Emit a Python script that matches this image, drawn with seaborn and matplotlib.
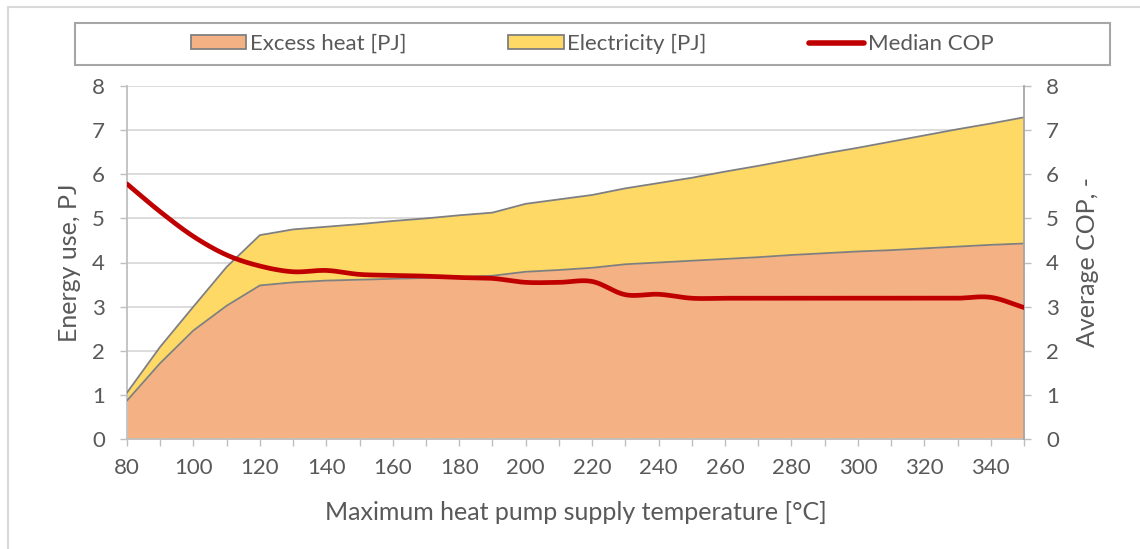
import numpy as np
import pandas as pd
import matplotlib
matplotlib.use("Agg")
import matplotlib.pyplot as plt
import seaborn as sns
from matplotlib.patches import Patch, Rectangle
from matplotlib.lines import Line2D

# ---------------- data ----------------
temperature = [80, 90, 100, 110, 120, 130, 140, 150, 160, 170, 180, 190, 200, 210,
               220, 230, 240, 250, 260, 270, 280, 290, 300, 310, 320, 330, 340, 350]
excess_heat = [0.87, 1.72, 2.46, 3.02, 3.48, 3.55, 3.59, 3.61, 3.63, 3.65, 3.67, 3.70, 3.79, 3.83,
               3.88, 3.96, 4.00, 4.04, 4.08, 4.12, 4.17, 4.21, 4.25, 4.28, 4.32, 4.36, 4.40, 4.43]
total_energy = [1.05, 2.09, 3.00, 3.90, 4.62, 4.75, 4.81, 4.87, 4.94, 5.00, 5.07, 5.13, 5.33, 5.43,
                5.53, 5.68, 5.80, 5.92, 6.06, 6.19, 6.33, 6.47, 6.60, 6.74, 6.88, 7.02, 7.15, 7.29]
electricity = [round(t - e, 2) for t, e in zip(total_energy, excess_heat)]
median_cop = [5.78, 5.15, 4.59, 4.17, 3.92, 3.79, 3.82, 3.73, 3.71, 3.69, 3.66, 3.64, 3.55, 3.55,
              3.57, 3.27, 3.28, 3.19, 3.19, 3.19, 3.19, 3.19, 3.19, 3.19, 3.19, 3.19, 3.21, 2.98]

legend_labels = ["Excess heat [PJ]", "Electricity [PJ]", "Median COP"]
x_label = "Maximum heat pump supply temperature [°C]"
y_left_label = "Energy use, PJ"
y_right_label = "Average COP, -"

df = pd.DataFrame({"T": temperature, "excess": excess_heat,
                   "elec": electricity, "cop": median_cop})
df["total"] = df["excess"] + df["elec"]

# ---------------- style ----------------
sns.set_theme(style="white")
plt.rcParams["font.family"] = ["Lato", "DejaVu Sans"]
TXT = "#595959"
GRID = "#D9D9D9"
SPINE = "#BFBFBF"
C_EXCESS = "#F4B183"
C_ELEC = "#FFD966"
C_COP = "#C00000"
C_EDGE = "#7F7F7F"
FS = 16
FS_LAB = 18

W, H = 1140, 549
fig = plt.figure(figsize=(W / 100, H / 100), dpi=100)
fig.patch.set_facecolor("white")

# outer chart border (cropped at right/bottom)
fig.add_artist(Rectangle((8 / W, -0.1), 1.2, 1 - 7 / H + 0.1, transform=fig.transFigure,
                         fill=False, edgecolor="#D9D9D9", lw=1.5))

ax = fig.add_axes([127 / W, 1 - 439 / H, (1024 - 127) / W, (439 - 86) / H])

# stacked areas
ax.fill_between(df["T"], 0, df["excess"], color=C_EXCESS, lw=0, zorder=2)
ax.fill_between(df["T"], df["excess"], df["total"], color=C_ELEC, lw=0, zorder=2)
sns.lineplot(x="T", y="excess", data=df, ax=ax, color=C_EDGE, lw=1.3, zorder=3)
sns.lineplot(x="T", y="total", data=df, ax=ax, color=C_EDGE, lw=1.3, zorder=3)

# smoothed COP line (Catmull-Rom through the data points, like Excel smoothing)
xs = df["T"].to_numpy(float)
ys = df["cop"].to_numpy(float)
px = np.concatenate([[2 * xs[0] - xs[1]], xs, [2 * xs[-1] - xs[-2]]])
py = np.concatenate([[2 * ys[0] - ys[1]], ys, [2 * ys[-1] - ys[-2]]])
sx, sy = [], []
tt = np.linspace(0, 1, 20, endpoint=False)
for i in range(1, len(px) - 2):
    p0x, p1x, p2x, p3x = px[i - 1:i + 3]
    p0y, p1y, p2y, p3y = py[i - 1:i + 3]
    b1x, b1y = p1x + (p2x - p0x) / 6, p1y + (p2y - p0y) / 6
    b2x, b2y = p2x - (p3x - p1x) / 6, p2y - (p3y - p1y) / 6
    bx = (1 - tt) ** 3 * p1x + 3 * (1 - tt) ** 2 * tt * b1x + 3 * (1 - tt) * tt ** 2 * b2x + tt ** 3 * p2x
    by = (1 - tt) ** 3 * p1y + 3 * (1 - tt) ** 2 * tt * b1y + 3 * (1 - tt) * tt ** 2 * b2y + tt ** 3 * p2y
    sx.extend(bx); sy.extend(by)
sx.append(xs[-1]); sy.append(ys[-1])

ax2 = ax.twinx()
ax2.plot(sx, sy, color=C_COP, lw=3.4, solid_capstyle="round", zorder=5)

# axes formatting
for a in (ax, ax2):
    a.set_xlim(80, 350)
    a.set_ylim(0, 8)
    a.set_yticks(range(0, 9))
    a.set_facecolor("none")
    for s in a.spines.values():
        s.set_visible(False)

ax.set_zorder(1)
ax2.set_zorder(2)
ax.yaxis.grid(True, color=GRID, lw=1.3, zorder=0)
ax.set_axisbelow(True)

ax.spines["left"].set_visible(True)
ax.spines["left"].set_color(SPINE)
ax.spines["left"].set_linewidth(1.3)
ax.spines["bottom"].set_visible(True)
ax.spines["bottom"].set_color(SPINE)
ax.spines["bottom"].set_linewidth(1.3)
ax2.spines["right"].set_visible(True)
ax2.spines["right"].set_color("#A6A6A6")
ax2.spines["right"].set_linewidth(1.3)

ax.set_xticks(temperature)
ax.set_xticklabels([str(t) if (t % 20 == 0 and t < 350) else "" for t in temperature])
ax.tick_params(axis="x", direction="out", length=5, width=1, color=SPINE,
               labelsize=FS, labelcolor=TXT, pad=9, bottom=True)
ax.tick_params(axis="y", direction="out", length=5, width=1, color=SPINE,
               labelsize=FS, labelcolor=TXT, pad=11, left=True)
ax2.tick_params(axis="y", direction="out", length=5, width=1, color=SPINE,
                labelsize=FS, labelcolor=TXT, pad=11, right=True)

ax.set_xlabel(x_label, fontsize=FS_LAB, color=TXT, labelpad=16)
ax.set_ylabel(y_left_label, fontsize=FS_LAB, color=TXT, labelpad=8)
ax2.set_ylabel(y_right_label, fontsize=FS_LAB, color=TXT, labelpad=12)

# legend
handles = [Patch(facecolor=C_EXCESS, edgecolor=C_EDGE, lw=1.3),
           Patch(facecolor=C_ELEC, edgecolor=C_EDGE, lw=1.3),
           Line2D([0], [0], color=C_COP, lw=4)]
leg = fig.legend(handles, legend_labels, loc="center", ncol=3,
                 bbox_to_anchor=(592 / W, 1 - 44 / H), frameon=False,
                 fontsize=FS, handlelength=2.5, handleheight=0.6,
                 handletextpad=0.15, columnspacing=4.6)
for t in leg.get_texts():
    t.set_color(TXT)
fig.add_artist(Rectangle((75 / W, 1 - 65 / H), (1110 - 75) / W, (65 - 23) / H,
                         transform=fig.transFigure, fill=False,
                         edgecolor="#A6A6A6", lw=1.5))

fig.savefig("out.png", dpi=100, facecolor="white")
